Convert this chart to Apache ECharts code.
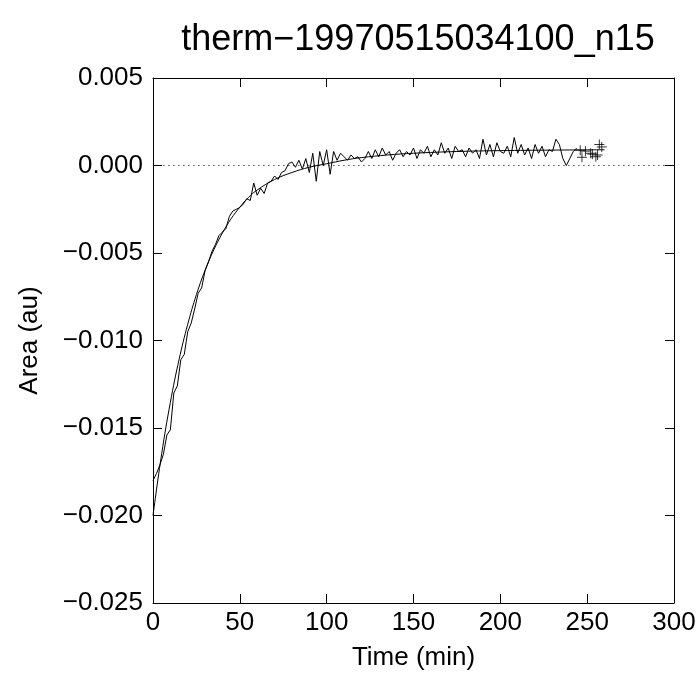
<!DOCTYPE html>
<html><head><meta charset="utf-8">
<script src="https://cdn.jsdelivr.net/npm/echarts@6/dist/echarts.min.js"></script>
<style>html,body{margin:0;padding:0;background:#fff}#c{width:699px;height:673px}</style>
</head><body><div id="c"></div><script>
// Measured series (Time in min, Area in au)
const timeData = [0,2,4,6,8,10,12,14,16,18,20,22,24,26,28,30,32,34,36,38,40,42,44,46,48,50,52,54,56,58,60,62,64,66,68,70,72,74,76,78,80,82,84,86,88,90,92,94,96,98,100,102,104,106,108,110,112,114,116,118,120,122,124,126,128,130,132,134,136,138,140,142,144,146,148,150,152,154,156,158,160,162,164,166,168,170,172,174,176,178,180,182,184,186,188,190,192,194,196,198,200,202,204,206,208,210,212,214,216,218,220,222,224,226,228,230,232,234,236,238,240,242,244];
const areaData = [-0.0180,-0.0176,-0.0171,-0.0165,-0.0154,-0.0151,-0.0130,-0.0126,-0.0111,-0.0108,-0.0095,-0.0090,-0.0082,-0.0073,-0.0070,-0.0060,-0.0055,-0.0049,-0.0045,-0.0040,-0.0038,-0.0036,-0.0029,-0.0026,-0.0025,-0.0024,-0.0022,-0.0019,-0.0020,-0.0010,-0.0017,-0.0013,-0.0016,-0.0010,-0.0009,-0.0006,-0.0008,-0.0004,-0.0003,0.0001,0.0002,-0.0001,0.0003,-0.0002,0.0004,-0.0004,0.0007,-0.0009,0.0008,0.0000,0.0009,-0.0005,0.0008,0.0003,0.0007,0.0005,0.0003,0.0006,0.0004,0.0005,0.0002,0.0004,0.0008,0.0004,0.0009,0.0005,0.0010,0.0006,0.0008,0.0003,0.0007,0.0009,0.0005,0.0008,0.0006,0.0010,0.0004,0.0009,0.0007,0.0011,0.0005,0.0009,0.0006,0.0013,0.0007,0.0010,0.0004,0.0011,0.0008,0.0009,0.0005,0.0010,0.0007,0.0009,0.0004,0.0015,0.0006,0.0012,0.0005,0.0013,0.0008,0.0007,0.0011,0.0005,0.0016,0.0007,0.0012,0.0006,0.0010,0.0004,0.0012,0.0007,0.0011,0.0005,0.0009,0.0008,0.0015,0.0012,0.0004,0.0000,0.0004,0.0008,0.0010];
// Fitted curve
const fitTime = [0,5,10,15,20,25,30,35,40,45,50,55,60,70,80,90,100,110,120,135,150,175,200,230,260];
const fitArea = [-0.0200,-0.01647,-0.01353,-0.01109,-0.00907,-0.00738,-0.00598,-0.00482,-0.00385,-0.00304,-0.00238,-0.00182,-0.0014,-0.0008,-0.0004,-0.0001,0.0001,0.0003,0.00045,0.0006,0.0007,0.0008,0.00085,0.00088,0.0009];
// Trailing points drawn as "+"
const plusTime = [246,247,249,252,253,255,256,257,258.4];
const plusArea = [0.00087,0.00047,0.00082,0.0007,0.00065,0.0005,0.0006,0.0012,0.00106];
// Axis ticks
const xTicks = [0,50,100,150,200,250,300];
const yTicks = [-0.025,-0.020,-0.015,-0.010,-0.005,0.000,0.005];

const zip = (a,b) => a.map((v,i)=>[v,b[i]]);
const fmtY = v => { const r = Math.round(v*1000)/1000; return (r<0?'\u2212':'') + Math.abs(r).toFixed(3); };
const FONT = '"Liberation Sans", Arial, Helvetica, sans-serif';
const axisCommon = () => ({
  axisLine:{show:true,onZero:false,lineStyle:{color:'#000',width:1}},
  axisTick:{show:true,inside:true,length:9,lineStyle:{color:'#000',width:1}},
  splitLine:{show:false}
});
const chart = echarts.init(document.getElementById('c'));
chart.setOption({
  backgroundColor:'#fff',
  animation:false,
  title:{text:'therm\u221219970515034100_n15',left:413,textAlign:'center',top:17,
    textStyle:{fontFamily:FONT,fontSize:36,fontWeight:'normal',color:'#000'}},
  grid:{left:153,right:25,top:78,bottom:70,containLabel:false,outerBoundsMode:'none'},
  xAxis:[
    Object.assign({type:'value',min:xTicks[0],max:xTicks[xTicks.length-1],interval:50,position:'bottom',
      name:'Time (min)',nameLocation:'middle',nameGap:42,
      nameTextStyle:{fontFamily:FONT,fontSize:26,color:'#000'},
      axisLabel:{fontFamily:FONT,fontSize:26,color:'#000',margin:7}},axisCommon()),
    Object.assign({type:'value',min:xTicks[0],max:xTicks[xTicks.length-1],interval:50,position:'top',
      axisLabel:{show:false}},axisCommon())
  ],
  yAxis:[
    Object.assign({type:'value',min:yTicks[0],max:yTicks[yTicks.length-1],interval:0.005,position:'left',
      name:'Area (au)',nameLocation:'middle',nameGap:110,nameRotate:90,
      nameTextStyle:{fontFamily:FONT,fontSize:26,color:'#000'},
      axisLabel:{fontFamily:FONT,fontSize:26,color:'#000',margin:10,formatter:fmtY}},axisCommon()),
    Object.assign({type:'value',min:yTicks[0],max:yTicks[yTicks.length-1],interval:0.005,position:'right',
      axisLabel:{show:false}},axisCommon())
  ],
  series:[
    {type:'line',data:zip(timeData,areaData),symbol:'none',lineStyle:{color:'#000',width:1},
      markLine:{silent:true,symbol:'none',label:{show:false},
        lineStyle:{color:'#000',width:1,type:[1,4]},
        data:[[{coord:[6,0]},{coord:[300,0]}]]}},
    {type:'line',data:zip(fitTime,fitArea),symbol:'none',smooth:0.4,lineStyle:{color:'#000',width:1}},
    {type:'scatter',data:zip(plusTime,plusArea),symbol:'path://M0,5L10,5M5,0L5,10',symbolSize:10,
      itemStyle:{color:'rgba(0,0,0,0)',borderColor:'#000',borderWidth:1}}
  ]
});
</script></body></html>
